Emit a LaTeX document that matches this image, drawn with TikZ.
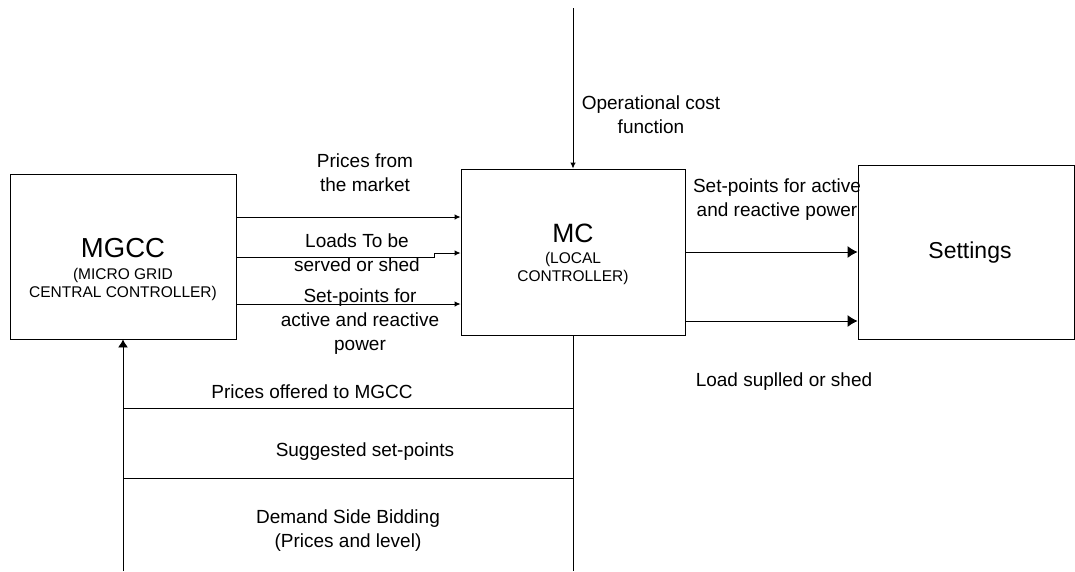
\documentclass[tikz,border=0pt]{standalone}
\usepackage{fontspec}
\setmainfont{Liberation Sans}
\usetikzlibrary{arrows.meta}
\begin{document}
\begin{tikzpicture}[x=1pt,y=-1pt,
  box/.style={draw,line width=0.9pt,inner sep=0pt},
  lbl/.style={align=center,inner sep=0pt,font=\fontsize{19}{24}\selectfont},
  sub/.style={align=center,inner sep=0pt,font=\fontsize{15.5}{17.5}\selectfont},
  wire/.style={line width=0.9pt},
  sarrow/.style={wire,-{Latex[length=6pt,width=5.5pt]}},
  barrow/.style={wire,-{Latex[length=10pt,width=12pt]}},
  uarrow/.style={wire,-{Latex[length=8pt,width=10pt]}}]
\useasboundingbox (0,0) rectangle (1075,571);

% blocks
\node[box,minimum width=226pt,minimum height=165pt] (mgcc) at (123,256.5) {};
\node[box,minimum width=224pt,minimum height=166pt] (mc) at (573,252) {};
\node[box,minimum width=216pt,minimum height=174pt] (set) at (966,252) {};

% block captions
\node[inner sep=0pt,font=\fontsize{27.5}{30}\selectfont] (mgccT) at (123,248) {MGCC};
\node[sub] (mgccS) at (123,284.5) {(MICRO GRID\\CENTRAL CONTROLLER)};
\node[inner sep=0pt,font=\fontsize{26.5}{30}\selectfont] (mcT) at (573,233) {MC};
\node[sub] (mcS) at (573,268.5) {(LOCAL\\CONTROLLER)};
\node[inner sep=0pt,font=\fontsize{23}{26}\selectfont] (setT) at (970,253) {Settings};

% MGCC -> MC
\draw[sarrow] (mgcc.east |- 0,217) -- (mc.west |- 0,217);
\draw[sarrow] (mgcc.east |- 0,257) -- (434,257) -- (434,253) -- (mc.west |- 0,253);
\draw[sarrow] (mgcc.east |- 0,304) -- (mc.west |- 0,304);
\node[lbl] (l1) at (365,173) {Prices from\\the market};
\node[lbl] (l2) at (357,253) {Loads To be\\served or shed};
\node[lbl] (l3) at (360,322) {Set-points for\\active and reactive\\power};

% external input to MC
\coordinate (top) at (573,8);
\draw[sarrow] (top) -- (mc.north);
\node[lbl] (l4) at (651,114.5) {Operational cost\\function};

% MC -> Settings
\draw[barrow] (mc.east |- 0,252) -- (set.west |- 0,252);
\draw[barrow] (mc.east |- 0,321) -- (set.west |- 0,321);
\node[lbl] (l5) at (777,199.5) {Set-points for active\\and reactive power};
\node[lbl] (l6) at (784,382) {Load suplled or shed};

% feedback from MC to MGCC
\coordinate (bR) at (573,571);
\coordinate (bL) at (123,571);
\coordinate (h1R) at (573,408);
\coordinate (h2R) at (573,478);
\draw[wire] (mc.south) -- (bR);
\draw[uarrow] (bL) -- (mgcc.south);
\draw[wire] (h1R) -- (h1R -| bL);
\draw[wire] (h2R) -- (h2R -| bL);
\node[lbl] (l7) at (312,392) {Prices offered to MGCC};
\node[lbl] (l8) at (365,452) {Suggested set-points};
\node[lbl] (l9) at (348,531) {Demand Side Bidding\\(Prices and level)};
\end{tikzpicture}
\end{document}
